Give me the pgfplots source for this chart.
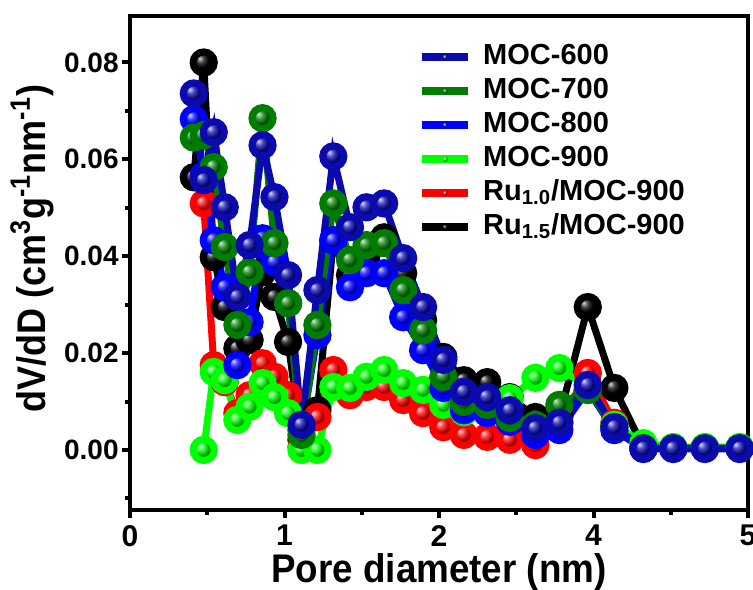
\documentclass[border=0pt]{standalone}
\usepackage{fontspec}
\setmainfont{Liberation Sans}
\newfontfamily\narrowfont[FakeStretch=0.9]{Liberation Sans}
\newfontfamily\xlabfont[FakeStretch=0.92]{Liberation Sans}
\usepackage{pgfplots}
\usepackage{pgfplotstable}
\pgfplotsset{compat=1.18}
\definecolor{c600}{RGB}{10,10,175}
\definecolor{c700}{RGB}{0,125,0}
\definecolor{c800}{RGB}{0,0,255}
\definecolor{c900}{RGB}{0,255,0}
\definecolor{cru10}{RGB}{255,0,0}
\definecolor{cru15}{RGB}{0,0,0}
\pgfplotstableread{
u      m600    m700    m800    m900    ru10    ru15
0.413  0.0736  0.0645  0.0683  nan     nan     0.0563
0.477  0.0557  0.0650  0.0567  0.0000  0.0509  0.0800
0.542  0.0656  0.0584  0.0433  0.0161  0.0175  0.0398
0.613  0.0501  0.0419  0.0336  0.0144  0.0140  0.0295
0.695  0.0316  0.0258  0.0175  0.0062  0.0076  0.0210
0.774  0.0423  0.0367  0.0264  0.0089  0.0113  0.0227
0.858  0.0629  0.0685  0.0437  0.0138  0.0179  0.0367
0.935  0.0522  0.0427  0.0388  0.0109  0.0151  0.0316
1.023  0.0361  0.0303  0.0303  0.0076  0.0113  0.0223
1.110  0.0052  0.0031  0.0041  0.0000  0.0006  0.0021
1.213  0.0330  0.0258  0.0237  0.0000  0.0068  0.0082
1.316  0.0606  0.0509  0.0433  0.0130  0.0165  0.0433
1.424  0.0460  0.0392  0.0336  0.0128  0.0113  0.0361
1.531  0.0501  0.0423  0.0365  0.0151  0.0130  0.0402
1.645  0.0509  0.0427  0.0365  0.0165  0.0130  0.0439
1.768  0.0396  0.0330  0.0274  0.0138  0.0103  0.0365
1.897  0.0295  0.0247  0.0206  0.0124  0.0076  0.0268
2.028  0.0186  0.0151  0.0128  0.0093  0.0047  0.0192
2.161  0.0120  0.0099  0.0082  0.0078  0.0031  0.0144
2.312  0.0109  0.0093  0.0076  0.0093  0.0027  0.0140
2.458  0.0082  0.0066  0.0058  0.0107  0.0021  0.0109
2.624  0.0045  0.0052  0.0031  0.0149  0.0010  0.0068
2.779  0.0056  0.0093  0.0041  0.0169  0.0056  0.0068
2.963  0.0134  0.0124  0.0124  0.0130  0.0159  0.0295
3.135  0.0047  0.0047  0.0041  0.0052  0.0056  0.0128
3.323  0.0003  0.0004  0.0002  0.0014  0.0003  0.0005
3.516  0.0003  0.0004  0.0002  0.0006  0.0003  0.0005
3.721  0.0003  0.0004  0.0002  0.0006  0.0003  0.0005
3.946  0.0003  0.0004  0.0002  0.0006  0.0003  0.0005
}\data
\begin{document}
\begin{tikzpicture}
\begin{axis}[
  scale only axis, width=309pt, height=247pt,
  xmin=0, xmax=4, ymin=-0.0124, ymax=0.0896,
  xtick={0,1,2,3,4}, xticklabels={0,1,2,4,5},
  minor xtick={0.5,1.5,2.5,3.5},
  ytick={0,0.02,0.04,0.06,0.08},
  minor ytick={-0.01,0.01,0.03,0.05,0.07},
  scaled y ticks=false,
  yticklabel style={/pgf/number format/fixed, /pgf/number format/fixed zerofill, /pgf/number format/precision=2},
  /pgf/number format/assume math mode=true,
  tick align=outside, tick pos=left,
  major tick length=4pt, minor tick length=2.5pt,
  every tick/.style={line width=2pt, black},
  axis line style={line width=2.4pt},
  x tick label style={font=\bfseries\fontsize{15}{15}\selectfont},
  y tick label style={font=\bfseries\fontsize{14}{14}\selectfont, inner xsep=1.5pt},
  xlabel={Pore diameter (nm)},
  ylabel={dV/dD (cm\textsuperscript{3}g\textsuperscript{-1}nm\textsuperscript{-1})},
  xlabel style={font=\xlabfont\bfseries\fontsize{20}{20}\selectfont, at={(axis description cs:0.5,0)}, yshift=-21.5pt, anchor=north, inner sep=0pt},
  ylabel style={font=\narrowfont\bfseries\fontsize{20}{20}\selectfont, at={(axis description cs:-0.1586,0.529)}, anchor=center, inner sep=0pt},
  every axis plot/.append style={line width=3.5pt, mark=ball, mark size=5.3pt},
  legend style={at={(axis description cs:0.456,0.96)}, anchor=north west, draw=none, fill=none,
    font=\bfseries\fontsize{14.5}{14.5}\selectfont,
    nodes={inner sep=2pt, text height=10pt, text depth=3pt},
    /tikz/every odd column/.append style={column sep=3.5pt}},
  legend cell align=left,
  reverse legend,
  legend image code/.code={
    \draw[#1, line width=4pt, mark=none] (0pt,0pt) -- (23pt,0pt);
    \draw[#1, mark size=1.6pt, line width=0.4pt] plot coordinates {(11.5pt,0pt)};
  },
]
\addplot[color=cru15, mark options={ball color=cru15}] table[x=u,y=ru15]{\data};
\addlegendentry{Ru\textsubscript{1.5}/MOC-900}
\addplot[color=cru10, mark options={ball color=cru10}] table[x=u,y=ru10]{\data};
\addlegendentry{Ru\textsubscript{1.0}/MOC-900}
\addplot[color=c900, mark options={ball color=c900}] table[x=u,y=m900]{\data};
\addlegendentry{MOC-900}
\addplot[color=c800, mark options={ball color=c800}] table[x=u,y=m800]{\data};
\addlegendentry{MOC-800}
\addplot[color=c700, mark options={ball color=c700}] table[x=u,y=m700]{\data};
\addlegendentry{MOC-700}
\addplot[color=c600, mark options={ball color=c600}] table[x=u,y=m600]{\data};
\addlegendentry{MOC-600}
\end{axis}
\pgfresetboundingbox
\path (-65pt,-39.5pt) rectangle (311.5pt,255pt);
\end{tikzpicture}
\end{document}
